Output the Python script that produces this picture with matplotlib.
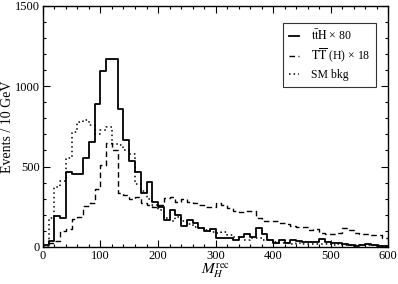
import numpy as np
import matplotlib
matplotlib.use('Agg')
import matplotlib.pyplot as plt
from matplotlib.ticker import MultipleLocator

plt.rcParams['font.family'] = ['Liberation Serif', 'DejaVu Serif']
plt.rcParams['mathtext.fontset'] = 'stix'

# 10 GeV bins from 0 to 600
edges = np.arange(0, 610, 10)

# ttH x 80 (solid)
tth = [10, 35, 190, 182, 463, 452, 455, 550, 650, 888,
       1092, 1167, 1167, 861, 667, 537, 465, 337, 404, 280,
       249, 165, 232, 197, 129, 165, 150, 114, 100, 108,
       52, 52, 52, 42, 62, 77, 62, 114, 79, 42,
       21, 42, 21, 42, 37, 31, 27, 27, 46, 27,
       21, 21, 15, 10, 8, 12, 15, 10, 8, 6]

# TTbar (H) x 18 (dashed)
tth_heavy = [0, 25, 35, 100, 110, 175, 185, 255, 270, 357,
             508, 647, 600, 332, 322, 295, 311, 270, 259, 249,
             259, 301, 311, 280, 295, 280, 270, 262, 249, 250,
             270, 259, 239, 220, 214, 220, 220, 177, 163, 159,
             158, 147, 140, 132, 124, 124, 106, 111, 85, 77,
             79, 83, 114, 104, 85, 77, 77, 71, 71, 55]

# SM background (dotted)
sm_bkg = [0, 177, 373, 410, 555, 716, 778, 790, 760, 705,
          725, 745, 643, 633, 600, 575, 394, 345, 300, 262,
          232, 182, 158, 183, 163, 145, 124, 114, 104, 93,
          83, 93, 73, 58, 62, 42, 52, 52, 42, 42,
          31, 25, 22, 20, 22, 18, 20, 18, 16, 18,
          14, 16, 14, 12, 14, 12, 10, 12, 10, 8]

series = [
    (tth, '-', 1.3, r'$\mathrm{t\bar{t}H}$ × 80'),
    (tth_heavy, (0, (4, 2.5)), 1.0, r'$\mathrm{T\overline{T}}$ (H) × 18'),
    (sm_bkg, (0, (1, 2)), 1.1, 'SM bkg'),
]

fig = plt.figure(figsize=(3.98, 2.84), dpi=100)
ax = fig.add_axes([0.108, 0.131, 0.867, 0.848])

for vals, ls, lw, lab in series:
    y = np.append(vals, vals[-1])
    ax.step(edges, y, where='post', color='black', linestyle=ls, linewidth=lw, label=lab)

ax.set_xlim(0, 600)
ax.set_ylim(0, 1500)
ax.xaxis.set_major_locator(MultipleLocator(100))
ax.xaxis.set_minor_locator(MultipleLocator(20))
ax.yaxis.set_major_locator(MultipleLocator(500))
ax.yaxis.set_minor_locator(MultipleLocator(100))
ax.tick_params(which='both', direction='in', top=True, right=True, labelsize=9, width=0.8)
ax.tick_params(which='major', length=5, pad=2)
ax.tick_params(which='minor', length=2.5)
for sp in ax.spines.values():
    sp.set_linewidth(1.0)

ax.set_ylabel('Events / 10 GeV', fontsize=10, labelpad=1)
ax.set_xlabel(r'$M_H^{\rm rec}$', fontsize=11, labelpad=0)

leg = ax.legend(loc='upper right', bbox_to_anchor=(0.982, 0.953), fontsize=8.5,
                frameon=True, fancybox=False, edgecolor='black', handlelength=0.9,
                handletextpad=1.0, borderpad=0.45, labelspacing=0.35)
leg.get_frame().set_linewidth(0.8)

fig.savefig('out.png', dpi=100)
